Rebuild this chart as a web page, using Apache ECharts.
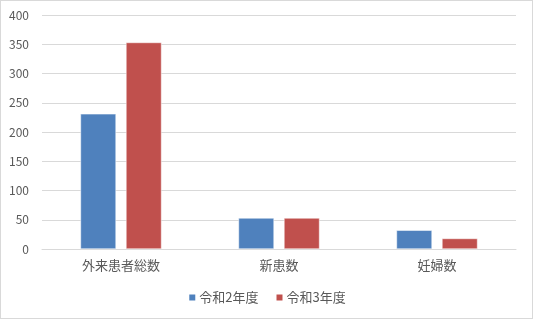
<!DOCTYPE html>
<html><head><meta charset="utf-8">
<script src="https://cdn.jsdelivr.net/npm/echarts@6/dist/echarts.min.js"></script>
<style>
html,body{margin:0;padding:0;background:#fff;}
#c{width:533px;height:319px;box-sizing:border-box;border:1px solid #d9d9d9;}
</style></head><body>
<div id="c"></div>
<script>
const categories = ['外来患者総数', '新患数', '妊婦数'];
const seriesNames = ['令和2年度', '令和3年度'];
const valuesR2 = [231, 53, 32];
const valuesR3 = [353, 53, 18];
const colors = ['#4f81bd', '#c0504d'];

const chart = echarts.init(document.getElementById('c'), null, {renderer: 'canvas'});
const font = '"Noto Sans CJK JP", "Noto Sans", sans-serif';
chart.setOption({
  animation: false,
  color: colors,
  textStyle: {fontFamily: font},
  grid: {left: 41, right: 16, top: 14, bottom: 69, containLabel: false},
  legend: {
    bottom: 9, left: 'center',
    itemWidth: 8, itemHeight: 8, itemGap: 16, icon: 'rect',
    textStyle: {fontSize: 13, color: '#595959', fontFamily: font, padding: [0,0,0,-2]},
    data: seriesNames
  },
  xAxis: {
    type: 'category', data: categories,
    axisLine: {lineStyle: {color: '#d9d9d9'}},
    axisTick: {show: false},
    axisLabel: {fontSize: 13, color: '#595959', margin: 10, fontFamily: font}
  },
  yAxis: {
    type: 'value', min: 0, max: 400, interval: 50,
    axisLine: {show: false}, axisTick: {show: false},
    splitLine: {lineStyle: {color: '#d9d9d9'}},
    axisLabel: {fontSize: 12, color: '#595959', margin: 13, fontFamily: font}
  },
  series: [
    {name: seriesNames[0], type: 'bar', data: valuesR2, barWidth: '22.5%', barGap: '28%',
     itemStyle: {color: colors[0], borderColor: '#ffffff', borderWidth: 0.5}},
    {name: seriesNames[1], type: 'bar', data: valuesR3, barWidth: '22.5%', barGap: '28%',
     itemStyle: {color: colors[1], borderColor: '#ffffff', borderWidth: 0.5}}
  ]
});
</script>
</body></html>
